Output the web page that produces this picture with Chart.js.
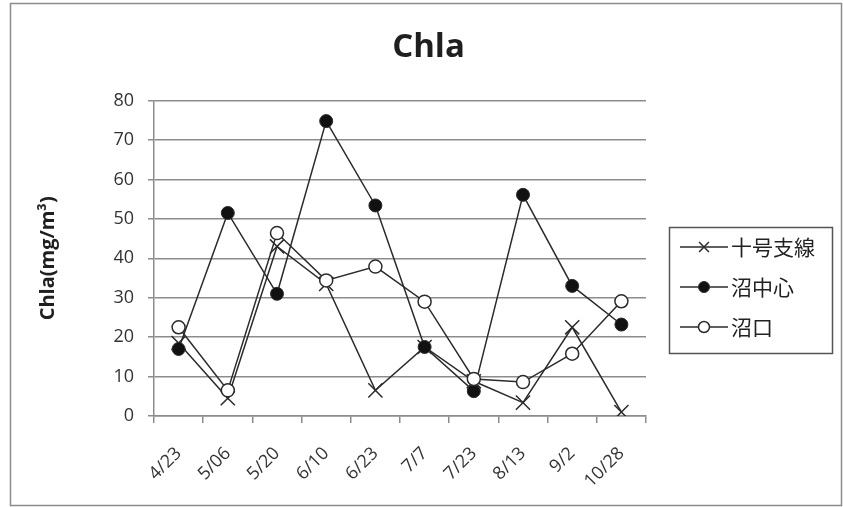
<!DOCTYPE html>
<html>
<head>
<meta charset="utf-8">
<script src="https://cdn.jsdelivr.net/npm/chart.js@4"></script>
<style>
  html, body { margin: 0; padding: 0; background: #fff; }
  #wrap { width: 843px; height: 507px; position: relative; }
</style>
</head>
<body>
<div id="wrap"><canvas id="myChart" width="843" height="507"></canvas></div>
<script>
// sampling dates
const dates = ['4/23', '5/06', '5/20', '6/10', '6/23', '7/7', '7/23', '8/13', '9/2', '10/28'];
// Chla (mg/m3) per station
const jugoShisen = [18.5, 4.5, 43, 33.5, 6.5, 17.5, 8.8, 3.4, 22.5, 1];
const numaChushin = [17, 51.5, 31, 74.8, 53.4, 17.5, 6.3, 56.1, 33, 23.2];
const numaGuchi = [22.5, 6.5, 46.4, 34.4, 37.9, 29, 9.4, 8.6, 15.8, 29.1];
const seriesNames = ['十号支線', '沼中心', '沼口'];
const yMin = 0, yMax = 80, yStep = 10;

const ink = '#2b2b2b';

// frame + legend box drawn after the chart
const frameAndLegend = {
    id: 'frameAndLegend',
    afterDraw(chart) {
        const ctx = chart.ctx;
        ctx.save();
        ctx.strokeStyle = '#8c8c8c';
        ctx.lineWidth = 1.5;
        ctx.strokeRect(10.5, 3.5, 831, 502);

        ctx.strokeStyle = '#555';
        ctx.lineWidth = 1.5;
        ctx.strokeRect(669.5, 227.5, 163, 126);

        const rowY = [247, 287, 327];
        chart.data.datasets.forEach((ds, i) => {
            const y = rowY[i];
            ctx.strokeStyle = ink;
            ctx.lineWidth = 1.5;
            ctx.beginPath();
            ctx.moveTo(680, y);
            ctx.lineTo(728, y);
            ctx.stroke();
            ctx.fillStyle = ds.pointBackgroundColor;
            ctx.strokeStyle = ink;
            ctx.lineWidth = ds.pointBorderWidth;
            Chart.helpers.drawPoint(ctx, {
                pointStyle: ds.pointStyle,
                radius: ds.pointStyle === 'crossRot' ? 7 : 5.5,
                rotation: 0,
                borderWidth: ds.pointBorderWidth
            }, 704, y);
            ctx.fillStyle = '#222';
            ctx.font = '21px "Noto Sans CJK JP"';
            ctx.textBaseline = 'middle';
            ctx.textAlign = 'left';
            ctx.fillText(ds.label, 731, y);
        });
        ctx.restore();
    }
};

const ctx = document.getElementById('myChart').getContext('2d');
const myChart = new Chart(ctx, {
    type: 'line',
    data: {
        labels: dates,
        datasets: [{
            label: seriesNames[0],
            data: jugoShisen,
            borderColor: ink,
            borderWidth: 1.5,
            pointStyle: 'crossRot',
            pointRadius: 10,
            pointBorderColor: ink,
            pointBackgroundColor: ink,
            pointBorderWidth: 1.5,
            order: 3
        }, {
            label: seriesNames[1],
            data: numaChushin,
            borderColor: ink,
            borderWidth: 1.5,
            pointStyle: 'circle',
            pointRadius: 6.5,
            pointBorderColor: ink,
            pointBackgroundColor: '#111',
            pointBorderWidth: 1,
            order: 2
        }, {
            label: seriesNames[2],
            data: numaGuchi,
            borderColor: ink,
            borderWidth: 1.5,
            pointStyle: 'circle',
            pointRadius: 6.5,
            pointBorderColor: ink,
            pointBackgroundColor: '#fff',
            pointBorderWidth: 1.5,
            order: 1
        }]
    },
    options: {
        responsive: false,
        animation: false,
        layout: { padding: { left: 32, right: 18, top: 0, bottom: 6 } },
        plugins: {
            legend: { display: false },
            tooltip: { enabled: false },
            title: {
                display: true,
                text: 'Chla',
                color: '#1f1f1f',
                font: { family: 'Open Sans', size: 33, weight: 'bold' },
                padding: { top: 28, bottom: 33 }
            }
        },
        scales: {
            x: {
                offset: true,
                grid: { offset: true, drawOnChartArea: false, drawTicks: true, tickLength: 7, color: '#8c8c8c', lineWidth: 1.5 },
                border: { color: '#8c8c8c', width: 1.5 },
                ticks: {
                    color: '#333',
                    font: { family: 'Open Sans', size: 18 },
                    minRotation: 45,
                    maxRotation: 45,
                    padding: 20,
                    autoSkip: false
                },
                afterFit(scale) { scale.height = 85; }
            },
            y: {
                min: yMin,
                max: yMax,
                grid: { color: '#8c8c8c', lineWidth: 1.5, tickLength: 6 },
                border: { color: '#8c8c8c', width: 1.5 },
                ticks: {
                    stepSize: yStep,
                    color: '#333',
                    font: { family: 'Open Sans', size: 18 },
                    padding: 14
                },
                title: {
                    display: true,
                    text: 'Chla(mg/m³)',
                    color: '#1f1f1f',
                    font: { family: 'Open Sans', size: 20, weight: 'bold' }
                },
                afterFit(scale) { scale.width = 122; }
            },
            // empty right-hand scale that reserves room for the legend box
            legendSpace: {
                type: 'linear',
                position: 'right',
                display: true,
                grid: { display: false, drawTicks: false },
                border: { display: false },
                ticks: { display: false },
                afterFit(scale) { scale.width = 179; }
            }
        }
    },
    plugins: [frameAndLegend]
});
</script>
</body>
</html>
